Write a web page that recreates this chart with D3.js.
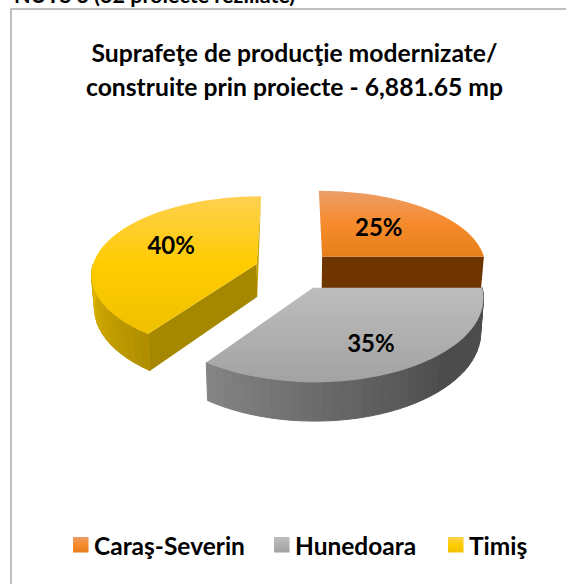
<!DOCTYPE html>
<html>
<head>
<meta charset="utf-8">
<script src="https://cdn.jsdelivr.net/npm/d3@7"></script>
<style>
  html, body { margin: 0; padding: 0; background: #fff; overflow: hidden; }
  text { font-family: Lato, "Open Sans", sans-serif; font-weight: 700; fill: #000; }
</style>
</head>
<body>
<svg id="chart" width="566" height="584"></svg>
<script>
// values
const categories = ["Caraş-Severin", "Hunedoara", "Timiş"];
const shares = [25, 35, 40];
const percentLabels = ["25%", "35%", "40%"];
const titleLines = ["Suprafeţe de producţie modernizate/", "construite prin proiecte - 6,881.65 mp"];
const headingText = "NUTS 3 (32 proiecte reziliate)";

// colours per slice: top gradient stops, then wall colours
const topStops = [
    ["#EC9D66", "#F68B2C", "#E67E18"],
    ["#BDBDBD", "#B0B0B0", "#A2A2A2"],
    ["#FFD04F", "#FFCC00", "#EFC000"]
];
const sideColors = [
    ["#6E3500", "#6E3500"],
    ["#858585", "#4C4C4C"],
    ["#E2B700", "#AE8D00"]
];
const cutColors = ["#6E3500", "#6E3500", "#A58800"];
const backColor = "#C9A300";

// where the % label sits inside its slice
const labelRadius = [0.56, 0.69, 0.6];
const labelTurn = [0.47, 0.5, 0.546];

const svg = d3.select("#chart");
const defs = svg.append("defs");

// perspective of the tilted pie
const centerX = 294.4, centerY = 270, radius = 165, explode = 40;
const tilt = 0.483, bendY = 0.00038, bendX = 0.0007;

function project(px, pz) {
    return [centerX + px * (1 + bendX * pz), centerY + tilt * pz + bendY * pz * pz];
}

function planePoint(slice, angle, r) {
    const mid = (slice.startAngle + slice.endAngle) / 2;
    return [
        explode * Math.sin(mid) + r * Math.sin(angle),
        -explode * Math.cos(mid) - r * Math.cos(angle)
    ];
}

// same point on the underside of the disc
function lowered(px, pz) {
    const p = project(px * 0.985, pz);
    p[1] = project(px, pz)[1] + 33.1 + 0.029 * pz;
    return p;
}

const pie = d3.pie().sort(null).value(d => d);
const slices = pie(shares);
const line = d3.line().curve(d3.curveLinear);

slices.forEach((s, i) => {
    const grad = defs.append("linearGradient")
        .attr("id", "top" + i)
        .attr("x1", 0).attr("y1", 0).attr("x2", 0).attr("y2", 1);
    grad.selectAll("stop")
        .data(topStops[i])
        .enter()
        .append("stop")
        .attr("offset", (d, k) => k / 2)
        .attr("stop-color", d => d);
});

// frame and the line of text cut off above it
svg.append("rect")
    .attr("x", 11).attr("y", 9)
    .attr("width", 600).attr("height", 600)
    .attr("fill", "#fff")
    .attr("stroke", "#ABABAB")
    .attr("stroke-width", 1.5);

svg.append("text")
    .attr("x", 14).attr("y", 3)
    .attr("font-size", 21.5)
    .text(headingText);

svg.append("g")
    .selectAll("text")
    .data(titleLines)
    .enter()
    .append("text")
    .attr("x", 294.5)
    .attr("y", (d, i) => 61.5 + i * 34)
    .attr("text-anchor", "middle")
    .attr("font-size", 24.7)
    .text(d => d);

const pieG = svg.append("g");

// draw from the back so the nearer slices cover the others
[0, 2, 1].forEach(i => {
    const s = slices[i];
    const g = pieG.append("g");
    const steps = 40;
    const angles = d3.range(steps + 1).map(k => s.startAngle + (s.endAngle - s.startAngle) * k / steps);

    // straight cut walls that face the viewer
    if (i === 0 || i === 2) {
        const cutAngle = i === 0 ? s.endAngle : s.startAngle;
        const a = planePoint(s, cutAngle, 0), b = planePoint(s, cutAngle, radius);
        g.append("path")
            .attr("d", line([project(...a), project(...b), lowered(...b), lowered(...a)]) + "Z")
            .attr("fill", cutColors[i]);
    }
    if (i === 2) {
        const a = planePoint(s, s.endAngle, 0), b = planePoint(s, s.endAngle, radius);
        g.append("path")
            .attr("d", line([project(...a), project(...b), lowered(...a)]) + "Z")
            .attr("fill", backColor);
    }

    // curved outer wall, only the part turned to the viewer, in flat bands
    const wall = angles.filter(a => a >= Math.PI / 2 && a <= Math.PI * 1.5);
    const shade = d3.scaleLinear()
        .domain(i === 1 ? [s.endAngle, Math.PI * 0.75] : [Math.PI * 1.5, s.startAngle])
        .range(sideColors[i])
        .clamp(true);
    d3.pairs(wall).forEach(([a0, a1]) => {
        const p0 = planePoint(s, a0, radius), p1 = planePoint(s, a1, radius);
        g.append("path")
            .attr("d", line([project(...p0), project(...p1), lowered(...p1), lowered(...p0)]) + "Z")
            .attr("fill", shade((a0 + a1) / 2))
            .attr("stroke", shade((a0 + a1) / 2))
            .attr("stroke-width", 1);
    });

    // top face
    const rim = angles.map(a => project(...planePoint(s, a, radius)));
    const apex = project(...planePoint(s, s.startAngle, 0));
    g.append("path")
        .attr("d", line([apex, ...rim]) + "Z")
        .attr("fill", `url(#top${i})`);
});

// percentage labels
svg.append("g")
    .selectAll("text")
    .data(slices)
    .enter()
    .append("text")
    .attr("transform", (d, i) => {
        const a = d.startAngle + (d.endAngle - d.startAngle) * labelTurn[i];
        const p = project(...planePoint(d, a, radius * labelRadius[i]));
        return `translate(${p[0]},${p[1]})`;
    })
    .attr("text-anchor", "middle")
    .attr("dy", "0.36em")
    .attr("font-size", 24)
    .text((d, i) => percentLabels[i]);

// legend
const legendXs = [73, 274, 448];
const legend = svg.append("g")
    .selectAll("g")
    .data(categories)
    .enter()
    .append("g")
    .attr("transform", (d, i) => `translate(${legendXs[i]},537)`);

legend.append("rect")
    .attr("width", 15.5).attr("height", 15.5)
    .attr("fill", (d, i) => `url(#top${i})`);

legend.append("text")
    .attr("x", 21)
    .attr("y", 18)
    .attr("font-size", 24.5)
    .text(d => d);
</script>
</body>
</html>
